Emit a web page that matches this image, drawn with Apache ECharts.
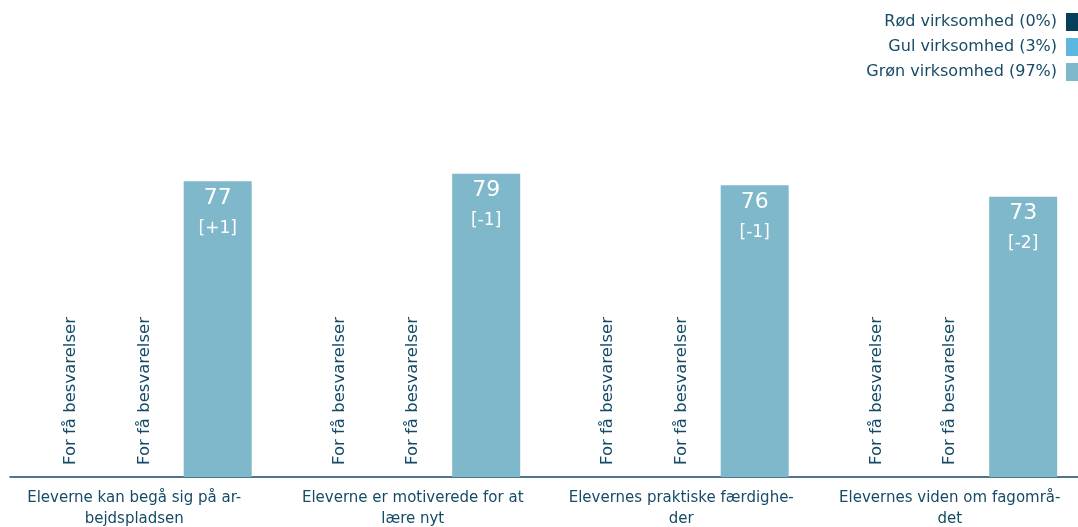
<!DOCTYPE html>
<html>
<head>
<meta charset="utf-8">
<script src="https://cdn.jsdelivr.net/npm/echarts@6/dist/echarts.min.js"></script>
<style>
  html, body { margin: 0; padding: 0; background: #fff; }
  #chart { width: 1078px; height: 527px; }
</style>
</head>
<body>
<div id="chart"></div>
<script>
  // kategorier (med manuelle orddelinger som i originalen)
  const categories = [
    'Eleverne kan begå sig på ar-\nbejdspladsen',
    'Eleverne er motiverede for at\nlære nyt',
    'Elevernes praktiske færdighe-\nder',
    'Elevernes viden om fagområ-\ndet'
  ];
  const seriesNames = ['Rød virksomhed (0%)', 'Gul virksomhed (3%)', 'Grøn virksomhed (97%)'];
  const redValues = [null, null, null, null];
  const yellowValues = [null, null, null, null];
  const greenValues = [77, 79, 76, 73];
  const greenChange = ['+1', '-1', '-1', '-2'];
  const tooFewText = 'For få besvarelser';

  const textColor = '#164b66';
  const font = 'DejaVu Sans';

  const chart = echarts.init(document.getElementById('chart'));

  // rød/gul har for få besvarelser -> 0 med lodret tekst
  function tooFew(values) {
    return values.map(v => v == null ? 0 : v);
  }
  const tooFewLabel = {
    show: true,
    position: 'insideBottom',
    rotate: 90,
    align: 'left',
    verticalAlign: 'middle',
    distance: 12,
    color: textColor,
    fontFamily: font,
    fontSize: 16.5,
    formatter: () => tooFewText
  };

  const option = {
    animation: false,
    textStyle: { fontFamily: font },
    legend: {
      orient: 'vertical',
      right: 0,
      top: 13,
      padding: 0,
      align: 'right',
      itemWidth: 12,
      itemHeight: 18,
      itemGap: 7,
      icon: 'rect',
      selectedMode: false,
      textStyle: { color: textColor, fontSize: 16, fontFamily: font, padding: [0, 4, 0, 0] },
      data: seriesNames
    },
    grid: { left: 10, width: 1074, top: 93, bottom: 50, containLabel: false, outerBoundsMode: 'none' },
    xAxis: {
      type: 'category',
      data: categories,
      axisLine: { lineStyle: { color: '#164b66', width: 1.5 } },
      axisTick: { show: false },
      axisLabel: {
        color: textColor,
        fontSize: 15,
        fontFamily: font,
        lineHeight: 21,
        margin: 11,
        interval: 0,
        // første etiket er skubbet lidt til venstre i originalen
        formatter: (v, i) => i === 0 ? v.split('\n').map(l => '{f|' + l + '}').join('\n') : v,
        rich: {
          f: { color: textColor, fontSize: 15, fontFamily: font, lineHeight: 21, padding: [0, 20, 0, 0] }
        }
      }
    },
    yAxis: {
      type: 'value',
      min: 0,
      max: 100,
      show: false
    },
    series: [
      {
        name: seriesNames[0],
        type: 'bar',
        data: tooFew(redValues),
        itemStyle: { color: '#063f5a' },
        barWidth: 68,
        barGap: '8%',
        barCategoryGap: '20%',
        label: tooFewLabel
      },
      {
        name: seriesNames[1],
        type: 'bar',
        data: tooFew(yellowValues),
        itemStyle: { color: '#5db6dd' },
        barWidth: 68,
        label: tooFewLabel
      },
      {
        name: seriesNames[2],
        type: 'bar',
        data: greenValues,
        itemStyle: { color: '#7fb7cb' },
        barWidth: 68,
        label: {
          show: true,
          position: 'insideTop',
          distance: 2,
          formatter: p => '{a|' + p.value + '}\n{b|[' + greenChange[p.dataIndex] + ']}',
          rich: {
            a: { color: '#fff', fontSize: 22, fontFamily: font, lineHeight: 30 },
            b: { color: '#fff', fontSize: 17, fontFamily: font, lineHeight: 30 }
          }
        }
      }
    ]
  };
  chart.setOption(option);
</script>
</body>
</html>
